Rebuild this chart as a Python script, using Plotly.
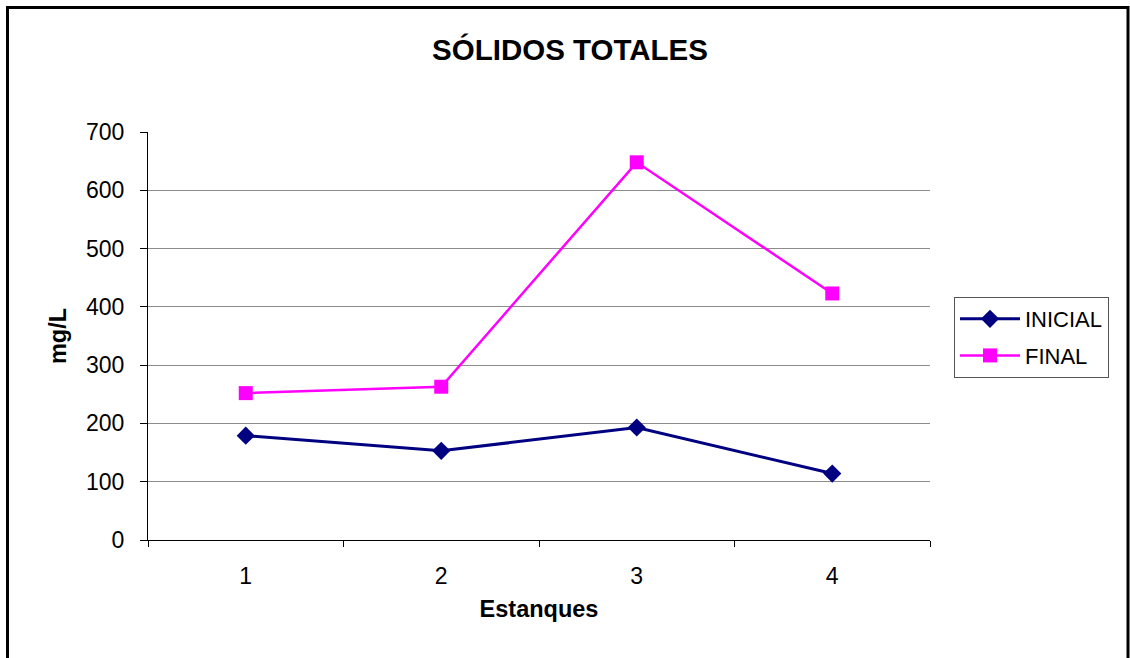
import plotly.graph_objects as go

estanques = ["1", "2", "3", "4"]
inicial = [179, 153, 193, 114]
final = [252, 263, 648, 423]
y_ticks = [0, 100, 200, 300, 400, 500, 600, 700]

FONT = "Liberation Sans, Arial, sans-serif"
W, H = 1130, 658
# plot area in screen pixels
L, R, T, B = 148, 930, 132, 540
pw, ph = R - L, B - T


def px(x):
    return (x - L) / pw


def py(y):
    return (B - y) / ph


fig = go.Figure()
fig.add_trace(go.Scatter(
    x=estanques, y=inicial, name="INICIAL", mode="lines+markers", legendgroup="a",
    line=dict(color="#000080", width=3),
    marker=dict(symbol="diamond", size=14, color="#000080"),
))
fig.add_trace(go.Scatter(
    x=estanques, y=final, name="FINAL", mode="lines+markers", legendgroup="b",
    line=dict(color="#FF00FF", width=2.5),
    marker=dict(symbol="square", size=14, color="#FF00FF"),
))

fig.update_layout(
    width=W, height=H,
    margin=dict(l=L, r=W - R, t=T, b=H - B),
    paper_bgcolor="white", plot_bgcolor="white",
    font=dict(family=FONT, size=22, color="black"),
    title=dict(text="<b>SÓLIDOS TOTALES</b>", x=570 / W, xref="container",
               xanchor="center", y=1 - 50 / H, yref="container", yanchor="middle",
               font=dict(size=29.5, family=FONT, color="black")),
    xaxis=dict(type="category", range=[-0.5, 3.5], tickson="boundaries",
               ticks="outside", ticklen=6, tickcolor="black",
               showline=True, linecolor="black", linewidth=1,
               showgrid=False, tickfont=dict(size=23), ticklabelstandoff=15,
               title=dict(text="<b>Estanques</b>", font=dict(size=23.5), standoff=12)),
    yaxis=dict(range=[0, 700], tickvals=y_ticks, ticks="outside", ticklen=7,
               tickcolor="black", showline=True, linecolor="black", linewidth=1,
               showgrid=True, gridcolor="#8c8c8c", gridwidth=1, zeroline=False,
               tickfont=dict(size=23), ticklabelstandoff=11,
               title=dict(text="<b>mg/L</b>", font=dict(size=23.5), standoff=12)),
    legend=dict(x=px(954), y=py(297), xanchor="left", yanchor="top",
                bordercolor="#555555", borderwidth=1, bgcolor="white",
                font=dict(size=22), tracegroupgap=5, itemwidth=60),
    showlegend=True,
)

fig.add_shape(type="rect", xref="paper", yref="paper",
              x0=px(7.5), x1=px(1128), y0=py(690), y1=py(7.5),
              line=dict(color="black", width=3), layer="above")

fig.write_html("out.html", config={"displayModeBar": False},
               post_script="document.body.style.margin='0px';")
